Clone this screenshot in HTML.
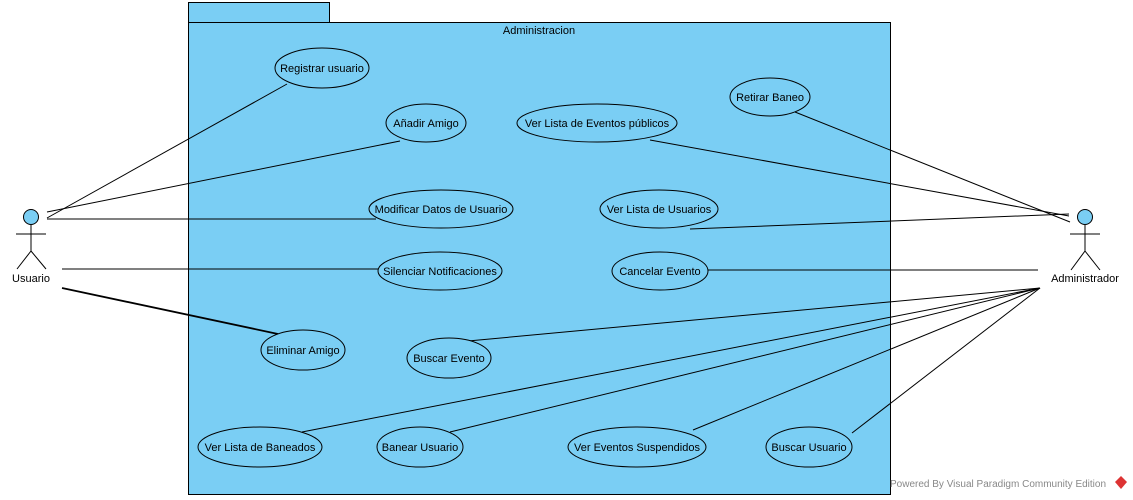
<!DOCTYPE html>
<html><head><meta charset="utf-8"><style>
html,body{margin:0;padding:0;background:#fff;}
svg{display:block;font-family:"Liberation Sans",Arial,sans-serif;font-size:11px;}
</style></head><body>
<svg width="1133" height="500" viewBox="0 0 1133 500" xmlns="http://www.w3.org/2000/svg">
<rect x="188.5" y="2.5" width="141" height="20" fill="#7acef4" stroke="#000"/>
<rect x="188.5" y="22.5" width="702" height="472" fill="#7acef4" stroke="#000"/>
<text x="539" y="34" text-anchor="middle">Administracion</text>
<g stroke="#000" stroke-width="1" fill="none">
<line x1="47" y1="218" x2="287" y2="84"/>
<line x1="47" y1="212" x2="400" y2="141"/>
<line x1="47" y1="219" x2="376" y2="219"/>
<line x1="62" y1="269" x2="380" y2="269"/>
<line x1="62" y1="288" x2="278" y2="334" stroke-width="1.8"/>
<line x1="1070" y1="222" x2="795" y2="112"/>
<line x1="1069" y1="216" x2="650" y2="140"/>
<line x1="1069" y1="214" x2="690" y2="229"/>
<line x1="1038" y1="270" x2="707" y2="270"/>
<line x1="1040" y1="288" x2="468" y2="341"/>
<line x1="1040" y1="288" x2="302" y2="432"/>
<line x1="1040" y1="288" x2="450" y2="432"/>
<line x1="1040" y1="288" x2="693" y2="430"/>
<line x1="1040" y1="288" x2="852" y2="433"/>
</g>
<g fill="#7acef4" stroke="#000">
<ellipse cx="322" cy="68" rx="47" ry="20"/>
<ellipse cx="426" cy="123" rx="40" ry="19"/>
<ellipse cx="597" cy="123" rx="80" ry="19"/>
<ellipse cx="770" cy="97" rx="40" ry="19"/>
<ellipse cx="441" cy="209" rx="72" ry="19"/>
<ellipse cx="659" cy="209" rx="59" ry="19"/>
<ellipse cx="440" cy="271" rx="62" ry="19"/>
<ellipse cx="660" cy="271" rx="48" ry="19"/>
<ellipse cx="303" cy="350" rx="42" ry="20"/>
<ellipse cx="449" cy="358" rx="42" ry="20"/>
<ellipse cx="260" cy="447" rx="62" ry="20"/>
<ellipse cx="420" cy="447" rx="43" ry="20"/>
<ellipse cx="637" cy="447" rx="69" ry="20"/>
<ellipse cx="809" cy="447" rx="43" ry="20"/>
</g>
<g text-anchor="middle">
<text x="322" y="72">Registrar usuario</text>
<text x="426" y="127">Añadir Amigo</text>
<text x="597" y="127">Ver Lista de Eventos públicos</text>
<text x="770" y="101">Retirar Baneo</text>
<text x="441" y="213">Modificar Datos de Usuario</text>
<text x="659" y="213">Ver Lista de Usuarios</text>
<text x="440" y="275">Silenciar Notificaciones</text>
<text x="660" y="275">Cancelar Evento</text>
<text x="303" y="354">Eliminar Amigo</text>
<text x="449" y="362">Buscar Evento</text>
<text x="260" y="451">Ver Lista de Baneados</text>
<text x="420" y="451">Banear Usuario</text>
<text x="637" y="451">Ver Eventos Suspendidos</text>
<text x="809" y="451">Buscar Usuario</text>
</g>
<g stroke="#000" fill="none">
<circle cx="31" cy="217" r="7.5" fill="#7acef4"/>
<line x1="31" y1="225" x2="31" y2="251"/>
<line x1="16" y1="234" x2="46" y2="234"/>
<line x1="31" y1="251" x2="17" y2="269"/>
<line x1="31" y1="251" x2="46" y2="269"/>
<circle cx="1085" cy="217" r="7.5" fill="#7acef4"/>
<line x1="1085" y1="225" x2="1085" y2="251"/>
<line x1="1070" y1="234" x2="1100" y2="234"/>
<line x1="1085" y1="251" x2="1071" y2="270"/>
<line x1="1085" y1="251" x2="1100" y2="270"/>
</g>
<text x="31" y="282" text-anchor="middle">Usuario</text>
<text x="1085" y="282" text-anchor="middle">Administrador</text>
<text x="890" y="487" font-size="10" fill="#888">Powered By  Visual Paradigm Community Edition</text>
<path d="M1121 476 l6 6 -6 7 -6 -7z" fill="#d33"/>
</svg>
</body></html>
